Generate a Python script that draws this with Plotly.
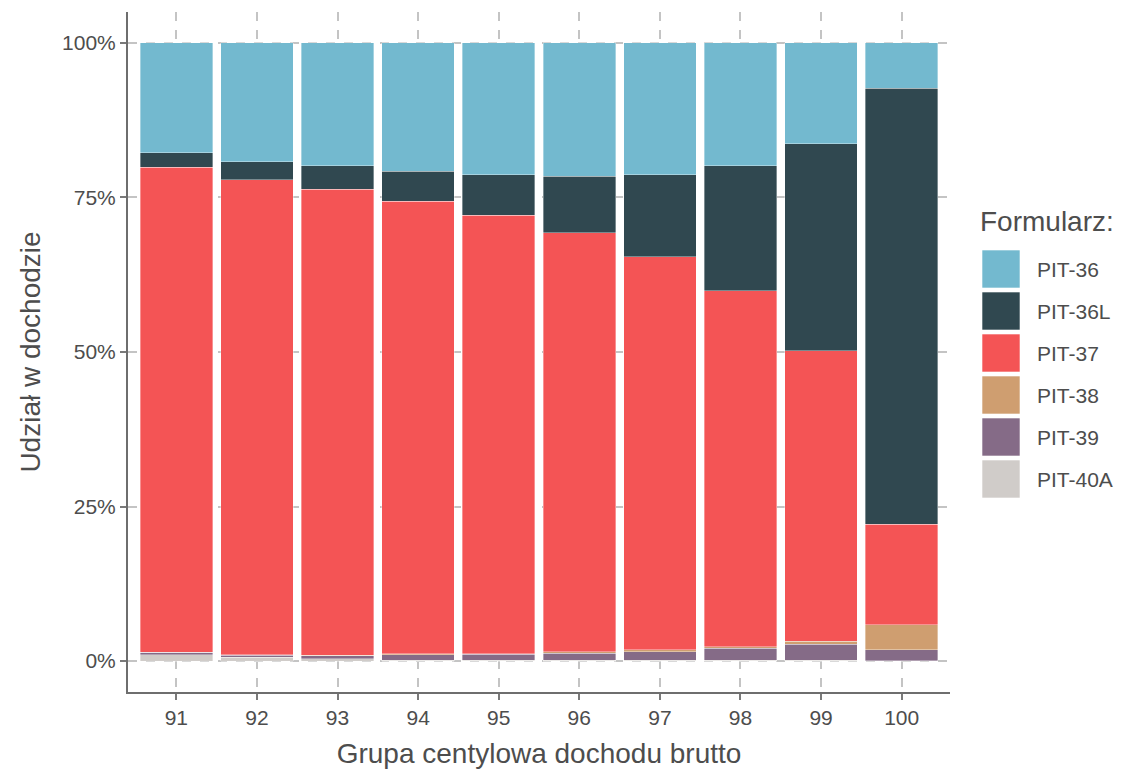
import plotly.graph_objects as go

groups = ["91", "92", "93", "94", "95", "96", "97", "98", "99", "100"]
forms = ["PIT-36", "PIT-36L", "PIT-37", "PIT-38", "PIT-39", "PIT-40A"]
colors = ["#73B9CF", "#304850", "#F45455", "#CF9E70", "#856B87", "#D0CCC9"]

pit_40a = [1.0, 0.6, 0.4, 0.15, 0.15, 0.15, 0.15, 0.15, 0.15, 0.05]
pit_39 = [0.4, 0.35, 0.5, 0.9, 0.95, 1.1, 1.4, 1.9, 2.6, 1.75]
pit_38 = [0.05, 0.1, 0.05, 0.1, 0.1, 0.25, 0.25, 0.3, 0.5, 4.1]
pit_37 = [78.4, 76.85, 75.35, 73.25, 70.9, 67.8, 63.6, 57.55, 46.95, 16.2]
pit_36l = [2.4, 2.9, 3.8, 4.8, 6.6, 9.1, 13.3, 20.2, 33.5, 70.6]
pit_36 = [17.75, 19.2, 19.9, 20.8, 21.3, 21.6, 21.3, 19.9, 16.3, 7.3]

series = {
    "PIT-36": pit_36, "PIT-36L": pit_36l, "PIT-37": pit_37,
    "PIT-38": pit_38, "PIT-39": pit_39, "PIT-40A": pit_40a,
}

fig = go.Figure()
tot = [sum(series[f][i] for f in forms) for i in range(len(groups))]
# stack from bottom (PIT-40A) to top (PIT-36)
for name, col in reversed(list(zip(forms, colors))):
    vals = series[name]
    fig.add_trace(go.Bar(
        x=groups, y=[v / t for v, t in zip(vals, tot)], name=name,
        marker=dict(color=col, line=dict(width=0.6, color="rgba(255,255,255,0.6)")),
        showlegend=False,
    ))

text_col = "#4D4D4D"
grid_col = "#C4C4C4"
W, H = 1123, 771
L, R, T, B = 128, 173, 12, 79
pw, ph = W - L - R, H - T - B

fig.update_layout(
    barmode="stack", bargap=0.1,
    width=W, height=H,
    margin=dict(l=L, r=R, t=T, b=B),
    plot_bgcolor="white", paper_bgcolor="white",
    font=dict(family="Liberation Sans, Arial, sans-serif", color=text_col),
)
fig.update_xaxes(
    type="category", range=[-0.6, 9.6], automargin=False,
    showline=True, linecolor="#6E6E6E", linewidth=2,
    ticks="outside", ticklen=6, tickwidth=2, tickcolor="#7A7A7A",
    tickfont=dict(size=21, color=text_col),
    showgrid=True, gridcolor=grid_col, gridwidth=2, griddash="9px,9px",
    title=dict(text="Grupa centylowa dochodu brutto", font=dict(size=28, color=text_col), standoff=15),
)
fig.update_yaxes(
    range=[-0.05, 1.05], tickvals=[0, 0.25, 0.5, 0.75, 1.0], automargin=False,
    ticktext=["0%", "25%", "50%", "75%", "100%"],
    showline=True, linecolor="#6E6E6E", linewidth=2,
    ticks="outside", ticklen=6, tickwidth=2, tickcolor="#7A7A7A",
    tickfont=dict(size=21, color=text_col),
    showgrid=True, gridcolor=grid_col, gridwidth=2, griddash="9px,9px",
    zeroline=False,
    title=dict(text="Udział w dochodzie", font=dict(size=28, color=text_col), standoff=13),
)

def px(x):
    return (x - L) / pw

def py(y):
    return (H - B - y) / ph

# custom legend (large swatches)
fig.add_annotation(
    xref="paper", yref="paper", x=px(978), y=py(221),
    xanchor="left", yanchor="middle", text="Formularz:", showarrow=False,
    font=dict(size=28, color=text_col),
)
for i, (name, col) in enumerate(zip(forms, colors)):
    top = 250 + 42 * i
    fig.add_shape(
        type="rect", xref="paper", yref="paper",
        x0=px(982), x1=px(1020), y0=py(top + 38), y1=py(top),
        fillcolor=col, line=dict(width=1, color="rgba(255,255,255,0.6)"),
    )
    fig.add_annotation(
        xref="paper", yref="paper", x=px(1035), y=py(top + 19),
        xanchor="left", yanchor="middle", text=name, showarrow=False,
        font=dict(size=21, color=text_col),
    )

fig.write_html("out.html", config={"displayModeBar": False},
               post_script="document.body.style.margin='0';")
